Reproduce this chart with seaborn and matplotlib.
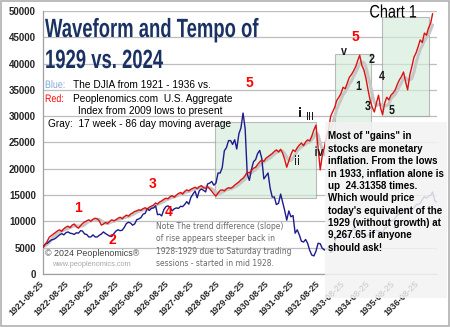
import numpy as np
import pandas as pd
import matplotlib
matplotlib.use("Agg")
import matplotlib.pyplot as plt
import matplotlib.dates as mdates
from matplotlib.patches import Rectangle
from matplotlib.patheffects import AbstractPathEffect
from matplotlib.transforms import Affine2D
import seaborn as sns

# ---------------- data ----------------
start_date = "1921-08-25"
# DJIA (scaled) monthly, Aug 1921 .. May 1937
blue_djia = [
    5100, 5680, 5840, 6160, 6480,
    6560, 6800, 7120, 7440, 7680, 7440, 7840, 8000, 7760, 7680, 7520, 7840,
    7760, 8240, 8160, 7600, 7520, 7040, 7040, 7440, 7040, 7040, 7360, 7600,
    8000, 7680, 7440, 7200, 7120, 7680, 8160, 8400, 8240, 8320, 8880, 9600,
    9840, 9680, 9280, 9520, 10320, 10480, 10720, 11360, 11520, 12400, 12080, 12480,
    12560, 12960, 11280, 11360, 11040, 12240, 12800, 12960, 12640, 12000, 12400, 12560,
    12480, 12880, 12800, 13200, 13760, 13280, 14560, 15200, 15760, 14480, 15840, 16160,
    15920, 15600, 17120, 17280, 17600, 16880, 17280, 19200, 19200, 20240, 23440, 24000,
    25360, 25360, 24640, 25520, 23760, 26640, 27760, 30600, 27600, 19000, 17800, 19840,
    21360, 21760, 22880, 23500, 22000, 18080, 18640, 19200, 16320, 14640, 14640, 13200,
    13440, 15200, 13760, 12080, 10240, 12000, 10880, 11120, 7760, 8400, 7440, 6240,
    6080, 6560, 5840, 4480, 3600, 3440, 4320, 5840, 5760, 4880, 4560, 4800,
    4880, 4080, 4400, 6160, 7120, 7840, 7200, 8160, 7520, 7040, 7840, 8000,
    8640, 8320, 8080, 8000, 7520, 7680, 7040, 7440, 7360, 7440, 8240, 8320,
    8160, 8080, 7760, 8720, 8880, 9440, 10080, 10240, 10560, 11200, 11360, 11520,
    11920, 12240, 12480, 11600, 12160, 12560, 13120, 13280, 13440, 14160, 14720, 14400,
    14800, 14960, 15600, 13920, 13700,
]
# Peoplenomics aggregate index (from 2009 lows), aligned monthly
red_index = [
    5100, 5600, 6200, 7000, 7300, 7600, 7900, 8200, 8400, 8100,
    8600, 8900, 9100, 8800, 9300, 9500, 9000, 8700, 9200, 9600,
    9900, 10100, 10300, 10000, 10400, 10600, 10500, 10100, 9300, 9500,
    9800, 9600, 10000, 10300, 10100, 10300, 10600, 10800, 10500, 10900,
    11200, 11000, 11400, 11600, 11900, 12000, 12200, 12100, 12400, 12600,
    12300, 12700, 12900, 13100, 13500, 13300, 13700, 13900, 14200, 14400,
    14300, 14700, 14900, 14600, 15000, 15300, 15500, 15200, 15700, 16000,
    15800, 16100, 16300, 16500, 16200, 16600, 16800, 16400, 16300, 16600,
    16200, 15700, 15200, 14800, 15400, 15900, 16000, 15800, 16200, 16400,
    16300, 16500, 16900, 17200, 17500, 17900, 18200, 18700, 19400, 19200,
    19700, 20100, 20300, 20800, 21300, 21700, 21400, 22000, 22300, 22600,
    22900, 23300, 23600, 23200, 23700, 23000, 21800, 20300, 21500, 22700,
    23600, 23300, 24000, 24500, 24900, 24400, 25100, 25500, 25300, 26200,
    27400, 28300, 24100, 19800, 22500, 24100, 26000, 27400, 30000, 30800,
    31700, 33000, 33600, 34300, 35500, 35200, 36300, 37400, 37900, 38600,
    39400, 40500, 41600, 39700, 38800, 37200, 35000, 33000, 31700, 30800,
    32500, 34000, 31500, 30300, 32500, 33600, 33100, 34000, 34400, 35000,
    36000, 36900, 37500, 38400, 36500, 35000, 37800, 39400, 41200, 42000,
    43200, 44500, 44000, 45800, 45400, 46800, 47700, 49500,
]
tick_years = list(range(1921, 1937))
y_ticks = [0, 5000, 10000, 15000, 20000, 25000, 30000, 35000, 40000, 45000, 50000]

blue_dates = pd.date_range(start_date, periods=len(blue_djia), freq=pd.DateOffset(months=1))
red_dates = pd.date_range(start_date, periods=len(red_index), freq=pd.DateOffset(months=1))
df_blue = pd.DataFrame({"date": blue_dates, "value": blue_djia})
df_red = pd.DataFrame({"date": red_dates, "value": red_index})
# 17-week (~4 month) trailing moving average of the red index
df_red["ma"] = df_red["value"].rolling(4, min_periods=1).mean()

# ---------------- style ----------------
sns.set_style("white")
plt.rcParams["font.family"] = ["Liberation Sans", "DejaVu Sans"]


class Squeeze(AbstractPathEffect):
    """Draw text horizontally condensed around its anchor (the text stays a Text artist)."""
    def __init__(self, sx):
        super().__init__()
        self.sx = sx
        self.text = None

    def draw_path(self, renderer, gc, tpath, affine, rgbFace=None):
        x0, _ = self.text.get_transform().transform(self.text.get_position())
        aff = affine + Affine2D().translate(-x0, 0).scale(self.sx, 1).translate(x0, 0)
        renderer.draw_path(gc, tpath, aff, rgbFace)


def squeezed(t, sx):
    pe = Squeeze(sx)
    pe.text = t
    t.set_path_effects([pe])
    return t


W, H = 450, 327
fig = plt.figure(figsize=(W / 100, H / 100), dpi=100)
def P(x, y):
    return (x / W, 1 - y / H)

ax = fig.add_axes([43 / W, 1 - 274 / H, 394 / W, 263 / H])

ax.set_ylim(0, 50000)
ax.set_xlim(pd.Timestamp("1921-08-25"), pd.Timestamp("1937-05-28"))
ax.set_yticks(y_ticks)
ax.set_yticklabels([str(v) for v in y_ticks], fontsize=7, fontweight="bold")
ax.grid(axis="y", color="#bdbdbd", lw=0.9)
ax.set_axisbelow(True)
xt = [pd.Timestamp(f"{y}-08-25") for y in tick_years]
ax.set_xticks(xt)
ax.set_xticklabels([f"{y}-08-25" for y in tick_years], rotation=45, ha="right",
                   rotation_mode="anchor", va="center", fontsize=6.3, fontweight="bold")
ax.tick_params(axis="x", length=3, color="#a0a0a0", pad=3, direction="out")
ax.tick_params(axis="y", length=3, color="#c0c0c0", pad=2, direction="out")
for s in ["top", "right"]:
    ax.spines[s].set_visible(False)
for s in ["left", "bottom"]:
    ax.spines[s].set_color("#a0a0a0")
    ax.spines[s].set_linewidth(0.9)

# green boxes
def dnum(ts):
    return mdates.date2num(pd.Timestamp(ts))
for (d0, d1, y0, y1) in [("1928-07-10", "1932-07-25", 14500, 28950),
                          ("1933-05-05", "1934-10-10", 19000, 41800),
                          ("1935-03-20", "1937-02-01", 30000, 48900)]:
    x0, x1 = dnum(d0), dnum(d1)
    ax.add_patch(Rectangle((x0, y0), x1 - x0, y1 - y0, facecolor="#d5ecd9",
                           edgecolor="#9a9a9a", lw=0.8, alpha=0.65, zorder=1))

sns.lineplot(data=df_red, x="date", y="ma", ax=ax, color="#c6c6c6", lw=2.2, zorder=2)
sns.lineplot(data=df_blue, x="date", y="value", ax=ax, color="#1c1c8c", lw=1.0, zorder=3)
sns.lineplot(data=df_red, x="date", y="value", ax=ax, color="#dd1111", lw=1.0, zorder=4)
ax.set_xlabel("")
ax.set_ylabel("")

# ---------------- texts ----------------
navy = "#1a3263"
squeezed(fig.text(*P(45, 37), "Waveform and Tempo of", fontweight="bold",
                  fontsize=19, color=navy, va="baseline"), 0.70)
squeezed(fig.text(*P(45, 68), "1929 vs. 2024", fontweight="bold",
                  fontsize=19, color=navy, va="baseline"), 0.70)

squeezed(fig.text(*P(45, 88), "Blue:", fontsize=7.8, color="#7fa6dc", va="baseline"), 0.82)
fig.text(*P(73, 88), "The DJIA from 1921 - 1936 vs.", fontsize=7.3, color="black", va="baseline")
squeezed(fig.text(*P(45, 102), "Red:", fontsize=7.8, color="#ff0000", va="baseline"), 0.82)
fig.text(*P(73, 102), "Peoplenomics.com  U.S. Aggregate", fontsize=7.3, color="black", va="baseline")
fig.text(*P(78, 114), "Index from 2009 lows to present", fontsize=7.3, color="black", va="baseline")
fig.text(*P(48, 127), "Gray:  17 week - 86 day moving average", fontsize=7.3, color="black", va="baseline")

# red wave numbers
for (x, y, s) in [(78, 208, "1"), (112, 240, "2"), (153, 184, "3"), (169, 212, "4"),
                  (249, 83, "5"), (355, 37, "5")]:
    fig.text(*P(x, y), s, fontsize=10, fontweight="bold", color="#ff0000", ha="center", va="center")

# black wave labels
for (x, y, s) in [(344, 52, "v"), (372, 60, "2"), (359, 87, "1"), (382, 77, "4"),
                  (368, 107, "3"), (392, 111, "5"), (297, 162, "ii"), (319, 153, "iv")]:
    squeezed(fig.text(*P(x, y), s, fontsize=9.5, fontweight="bold", color="#1a1a1a",
                      ha="center", va="center", zorder=6), 0.8)
squeezed(fig.text(*P(300, 114), "i", fontsize=9.5, fontweight="bold", color="#1a1a1a",
                  ha="center", va="center"), 0.8)
squeezed(fig.text(*P(310, 117), "iii", fontsize=7.5, fontweight="bold", color="#1a1a1a",
                  ha="center", va="center"), 0.8)

squeezed(fig.text(*P(393, 13), "Chart 1", fontsize=13, color="black",
                  ha="center", va="center"), 0.8)

fig.text(*P(156, 245), "Note The trend difference (slope)\nof rise appears steeper back in\n"
         "1928-1929 due to Saturday trading\nsessions - started in mid 1928.",
         fontsize=5.5, color="#6a6a6a", family=["DejaVu Sans"], va="center", linespacing=1.45)

fig.text(*P(45, 254), "\u00a9 2024 Peoplenomics\u00ae", fontsize=6.4, color="#404040", va="center")
fig.text(*P(52, 265), "www.peoplenomics.com", fontsize=5.3, color="#a8a8a8", va="center")

# overlay box (semi-transparent) with annotation
fig.add_artist(Rectangle(P(325, 298), 122 / W, 176 / H, transform=fig.transFigure,
                         facecolor="#f3f3f3", edgecolor="none", alpha=0.85, zorder=5))
fig.text(*P(328, 192), 'Most of "gains" in\nstocks are monetary\ninflation. From the lows\n'
         'in 1933, inflation alone is\nup  24.31358 times.\nWhich would price\n'
         "today's equivalent of the\n1929 (without growth) at\n9,267.65 if anyone\nshould ask!",
         fontsize=7, fontweight="bold", color="black", va="center", linespacing=1.3, zorder=6)

# outer frame
fig.add_artist(Rectangle((0.003, 0.004), 0.994, 0.992, transform=fig.transFigure,
                         fill=False, edgecolor="#b0b0b0", lw=1.2, zorder=7))

fig.savefig("out.png", dpi=100)
